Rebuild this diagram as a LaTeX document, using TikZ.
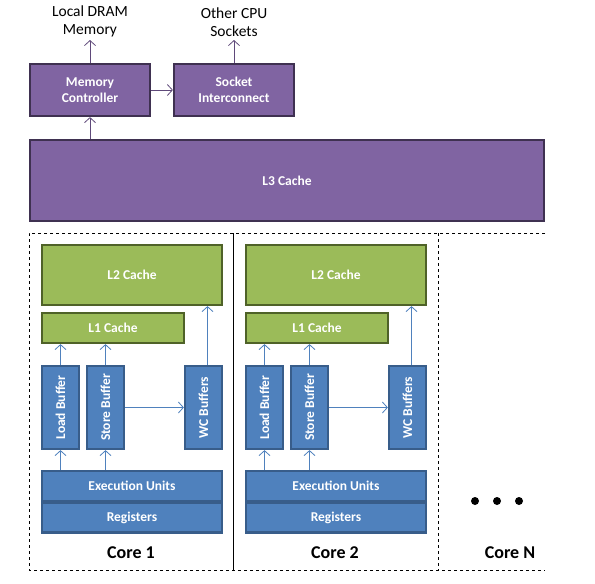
\documentclass[tikz,border=0pt]{standalone}
\usepackage{tikz}
\usepackage{xcolor}
\usepackage{fontspec}
\setmainfont{Carlito}
\usetikzlibrary{calc,
	positioning,
	shapes,
	arrows.meta}

\definecolor{purplefill}{HTML}{8064A2}
\definecolor{purpleline}{HTML}{3F3151}
\definecolor{purplearrow}{HTML}{5F497A}
\definecolor{greenfill}{HTML}{9BBB59}
\definecolor{greenline}{HTML}{4F6228}
\definecolor{bluefill}{HTML}{4F81BD}
\definecolor{blueline}{HTML}{385D8A}

\tikzset{
	unit/.style={
			draw,
			line width=2.2pt,
			text=white,
			font=\bfseries\fontsize{13.5}{15.5}\selectfont,
			align=center,
			inner sep=0pt
		},
	uncore/.style={unit, fill=purplefill, draw=purpleline},
	cache/.style={unit, fill=greenfill, draw=greenline},
	buffer/.style={unit, fill=bluefill, draw=blueline,
			minimum width=37pt, minimum height=83pt},
	pipe/.style={unit, fill=bluefill, draw=blueline,
			minimum width=180pt, minimum height=30pt},
	purplearrow/.style={draw=purplearrow, line width=0.8pt,
			-{Straight Barb[length=5pt,width=11pt]}},
	bluearrow/.style={draw=bluefill, line width=0.8pt,
			-{Straight Barb[length=5pt,width=11pt]}},
	outside/.style={font=\fontsize{15.5}{18}\selectfont, align=center,
			inner sep=0pt, outer sep=3pt},
	corename/.style={font=\bfseries\fontsize{18}{20}\selectfont}
}

\begin{document}
\begin{tikzpicture}[x=1pt, y=-1pt]
	\useasboundingbox (0, 0) rectangle (595, 584);

	% uncore
	\node[uncore, minimum width=120pt, minimum height=52pt] (mc) at (90, 90) {Memory\\Controller};
	\node[uncore, minimum width=120pt, minimum height=52pt] (si) at (234, 90) {Socket\\Interconnect};
	\node[uncore, minimum width=514pt, minimum height=81pt] (l3) at (287, 180.5) {L3 Cache};
	\node[outside, anchor=south] (dram) at (90, 40) {Local DRAM\\Memory};
	\node[outside, anchor=south] (sockets) at (234, 40) {Other CPU\\Sockets};

	\draw[purplearrow] (mc) -- (dram);
	\draw[purplearrow] (si) -- (sockets);
	\draw[purplearrow] (mc) -- (si);
	\draw[purplearrow] (l3.north -| mc) -- (mc);

	% core outlines
	\draw[dashed, line width=0.7pt] (545, 233) -- (29, 233) -- (29, 570) -- (545, 570);
	\draw[line width=0.9pt] (233, 233) -- (233, 570);
	\draw[dashed, line width=0.7pt] (438, 233) -- (438, 570);

	% core 1
	\node[cache, minimum width=180pt, minimum height=60pt] (l2-1) at (132, 275) {L2 Cache};
	\node[cache, minimum width=142pt, minimum height=30pt] (l1-1) at (113, 328) {L1 Cache};
	\node[buffer] (load-1) at (60.5, 407.5) {\rotatebox{90}{Load Buffer}};
	\node[buffer] (store-1) at (105.5, 407.5) {\rotatebox{90}{Store Buffer}};
	\node[buffer] (wc-1) at (203.5, 407.5) {\rotatebox{90}{WC Buffers}};
	\node[pipe] (exec-1) at (132, 486) {Execution Units};
	\node[pipe] (regs-1) at (132, 517.5) {Registers};
	\node[corename] (name-1) at (131, 553) {Core 1};

	\draw[bluearrow] (exec-1.north -| load-1) -- (load-1);
	\draw[bluearrow] (exec-1.north -| store-1) -- (store-1);
	\draw[bluearrow] (load-1) -- (l1-1.south -| load-1);
	\draw[bluearrow] (store-1) -- (l1-1.south -| store-1);
	\draw[bluearrow] (store-1) -- (wc-1);
	\draw[bluearrow] ([xshift=4pt]wc-1.north) -- ([xshift=4pt]wc-1.north |- l2-1.south);

	% core 2
	\node[cache, minimum width=180pt, minimum height=60pt] (l2-2) at (336, 275) {L2 Cache};
	\node[cache, minimum width=142pt, minimum height=30pt] (l1-2) at (317, 328) {L1 Cache};
	\node[buffer] (load-2) at (264.5, 407.5) {\rotatebox{90}{Load Buffer}};
	\node[buffer] (store-2) at (309.5, 407.5) {\rotatebox{90}{Store Buffer}};
	\node[buffer] (wc-2) at (407.5, 407.5) {\rotatebox{90}{WC Buffers}};
	\node[pipe] (exec-2) at (336, 486) {Execution Units};
	\node[pipe] (regs-2) at (336, 517.5) {Registers};
	\node[corename] (name-2) at (335, 553) {Core 2};

	\draw[bluearrow] (exec-2.north -| load-2) -- (load-2);
	\draw[bluearrow] (exec-2.north -| store-2) -- (store-2);
	\draw[bluearrow] (load-2) -- (l1-2.south -| load-2);
	\draw[bluearrow] (store-2) -- (l1-2.south -| store-2);
	\draw[bluearrow] (store-2) -- (wc-2);
	\draw[bluearrow] ([xshift=4pt]wc-2.north) -- ([xshift=4pt]wc-2.north |- l2-2.south);

	% core N
	\fill (475, 501) circle (4pt);
	\fill (497, 501) circle (4pt);
	\fill (519, 501) circle (4pt);
	\node[corename] (name-n) at (510, 553) {Core N};
\end{tikzpicture}
\end{document}
